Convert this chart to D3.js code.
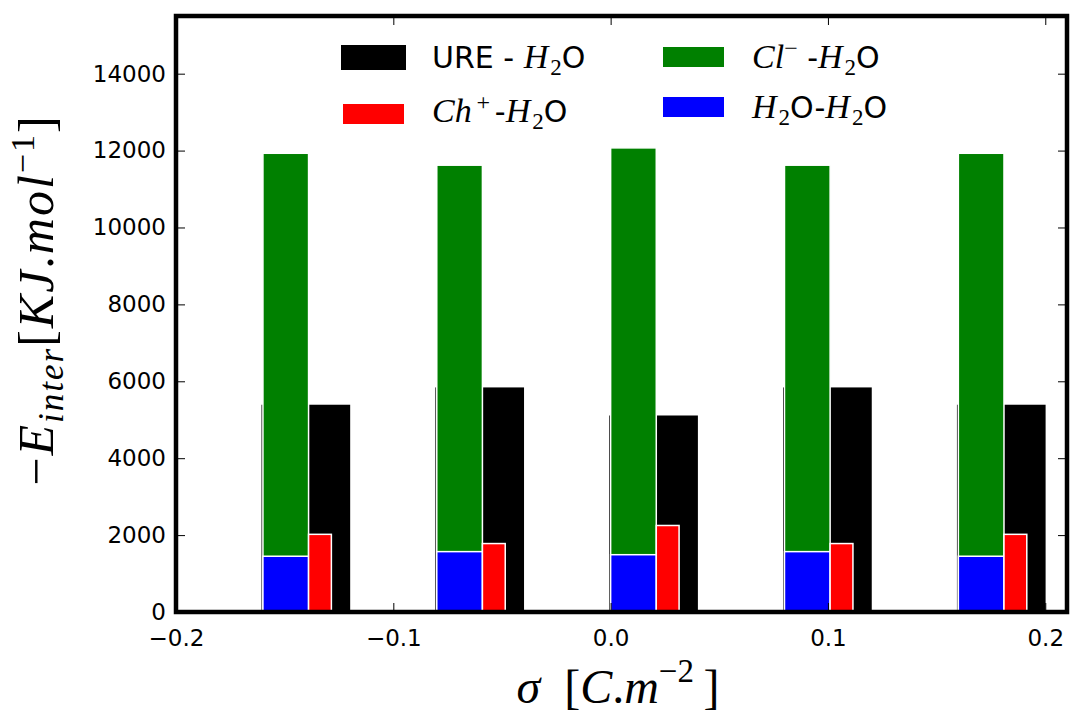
<!DOCTYPE html>
<html>
<head>
<meta charset="utf-8">
<script src="https://cdn.jsdelivr.net/npm/d3@7"></script>
<style>
  body { margin: 0; background: #fff; }
  .tick text { font-family: "DejaVu Sans", sans-serif; font-size: 23px; fill: #000; }
  .math { font-family: "Liberation Serif", serif; }
</style>
</head>
<body>
<div id="chart"></div>
<script>
// bar positions (left edge, sigma in C/m^2) and interaction energies
const sigma = [-0.16, -0.08, 0.0, 0.08, 0.16];
const ureWater = [5410, 5860, 5130, 5860, 5410];
const chWater = [2020, 1780, 2250, 1780, 2020];
const clWater = [11930, 11620, 12070, 11620, 11930];
const waterWater = [1450, 1570, 1490, 1570, 1450];
const xTicks = [-0.2, -0.1, 0.0, 0.1, 0.2];
const yTicks = [0, 2000, 4000, 6000, 8000, 10000, 12000, 14000];

const config = {
  width: 1070, height: 715,
  margin: {top: 16, right: 3, bottom: 103, left: 176}
};
const width = config.width - config.margin.left - config.margin.right;
const height = config.height - config.margin.top - config.margin.bottom;

const svg = d3.select("#chart").append("svg")
    .attr("width", config.width)
    .attr("height", config.height);

const chart = svg.append("g")
    .attr("transform", `translate(${config.margin.left},${config.margin.top})`);

const xScale = d3.scaleLinear().domain([-0.2, 0.21]).range([0, width]);
const yScale = d3.scaleLinear().domain([0, 15500]).range([height, 0]);

// each series: values, colour, x offset and width (in sigma units)
const series = [
  {values: ureWater, color: "#000000", dx: -0.001, w: 0.0415},
  {values: clWater, color: "#008000", dx: 0.0, w: 0.021},
  {values: waterWater, color: "#0000ff", dx: 0.0, w: 0.021},
  {values: chWater, color: "#ff0000", dx: 0.021, w: 0.0105}
];

series.forEach(s => {
  chart.append("g").selectAll("rect")
      .data(s.values.map((v, i) => ({x: sigma[i], v: v})))
    .join("rect")
      .attr("x", d => xScale(d.x + s.dx))
      .attr("width", d => xScale(d.x + s.dx + s.w) - xScale(d.x + s.dx))
      .attr("y", d => yScale(d.v))
      .attr("height", d => yScale(0) - yScale(d.v))
      .attr("fill", s.color)
      .attr("stroke", "#fff")
      .attr("stroke-width", 1.5);
});

// axes: inward ticks on all four sides
const fmtX = d => d3.format(".1f")(d).replace("-", "\u2212");
const xAxis = d3.axisBottom(xScale).tickValues(xTicks).tickFormat(fmtX)
    .tickSizeInner(-9).tickSizeOuter(0).tickPadding(18);
const xAxisTop = d3.axisTop(xScale).tickValues(xTicks).tickFormat("")
    .tickSizeInner(-9).tickSizeOuter(0);
const yAxis = d3.axisLeft(yScale).tickValues(yTicks).tickFormat(d3.format("d"))
    .tickSizeInner(-9).tickSizeOuter(0).tickPadding(10);
const yAxisRight = d3.axisRight(yScale).tickValues(yTicks).tickFormat("")
    .tickSizeInner(-9).tickSizeOuter(0);

chart.append("g").attr("transform", `translate(0,${height})`).call(xAxis);
chart.append("g").call(xAxisTop);
chart.append("g").call(yAxis);
chart.append("g").attr("transform", `translate(${width},0)`).call(yAxisRight);
chart.selectAll(".domain").remove();
chart.selectAll(".tick line").attr("stroke", "#000").attr("stroke-width", 1);
chart.selectAll(".tick text").attr("fill", "#000");

// frame
chart.append("rect")
    .attr("x", 0).attr("y", 0)
    .attr("width", width).attr("height", height)
    .attr("fill", "none")
    .attr("stroke", "#000")
    .attr("stroke-width", 4.5);

// axis titles
const xTitle = svg.append("text")
    .attr("class", "math")
    .attr("x", 618).attr("y", 703)
    .attr("text-anchor", "middle")
    .attr("font-size", 48);
xTitle.append("tspan").attr("font-style", "italic").text("σ");
xTitle.append("tspan").text("\u00a0\u00a0[");
xTitle.append("tspan").attr("font-style", "italic").text("C");
xTitle.append("tspan").text(".");
xTitle.append("tspan").attr("font-style", "italic").text("m");
xTitle.append("tspan").attr("font-size", 33).attr("dy", -21).text("\u22122");
xTitle.append("tspan").attr("dy", 21).text("\u2009]");

const yTitle = svg.append("text")
    .attr("class", "math")
    .attr("transform", "translate(53,300) rotate(-90)")
    .attr("text-anchor", "middle")
    .attr("letter-spacing", 2)
    .attr("font-size", 50);
yTitle.append("tspan").text("\u2212");
yTitle.append("tspan").attr("font-style", "italic").text("E");
yTitle.append("tspan").attr("font-style", "italic").attr("font-size", 35).attr("dy", 10).text("inter");
yTitle.append("tspan").attr("dy", -10).text("[");
yTitle.append("tspan").attr("font-style", "italic").text("KJ");
yTitle.append("tspan").text(".");
yTitle.append("tspan").attr("font-style", "italic").text("mol");
yTitle.append("tspan").attr("font-size", 34).attr("dy", -19).text("\u22121");
yTitle.append("tspan").attr("dy", 19).text("]");

// legend (two columns, no frame)
const legendItems = [
  {color: "#000000", px: 341, py: 45, pw: 65, ph: 25, tx: 432, ty: 68,
   parts: [["URE - ", "sans"], ["H", "it"], ["2", "sub"], ["O", "sans"]]},
  {color: "#ff0000", px: 343, py: 104, pw: 61, ph: 20, tx: 432, ty: 122,
   parts: [["Ch", "it"], ["\u2009+\u2009", "sup"], ["-", "sans"], ["H", "it"], ["2", "sub"], ["O", "sans"]]},
  {color: "#008000", px: 663, py: 47, pw: 61, ph: 20, tx: 752, ty: 68,
   parts: [["Cl", "it"], ["\u2212", "sup"], [" -", "sans"], ["H", "it"], ["2", "sub"], ["O", "sans"]]},
  {color: "#0000ff", px: 663, py: 97, pw: 61, ph: 20, tx: 752, ty: 118,
   parts: [["H", "it"], ["2", "sub"], ["O-", "sans"], ["H", "it"], ["2", "sub"], ["O", "sans"]]}
];

const legend = svg.append("g");
legendItems.forEach(item => {
  legend.append("rect")
      .attr("x", item.px).attr("y", item.py)
      .attr("width", item.pw).attr("height", item.ph)
      .attr("fill", item.color);
  const t = legend.append("text")
      .attr("x", item.tx).attr("y", item.ty)
      .attr("font-size", 30);
  let shift = 0;
  item.parts.forEach(([txt, kind]) => {
    const ts = t.append("tspan").text(txt);
    let target = 0;
    if (kind === "sans") {
      ts.attr("font-family", "DejaVu Sans, sans-serif");
    } else if (kind === "it") {
      ts.attr("font-family", "Liberation Serif, serif").attr("font-style", "italic").attr("font-size", 34);
    } else if (kind === "sub") {
      ts.attr("font-family", "Liberation Serif, serif").attr("font-size", 23).attr("dx", 2);
      target = 7;
    } else if (kind === "sup") {
      ts.attr("font-family", "Liberation Serif, serif").attr("font-size", 24);
      target = -12;
    }
    ts.attr("dy", target - shift);
    shift = target;
  });
});
</script>
</body>
</html>
